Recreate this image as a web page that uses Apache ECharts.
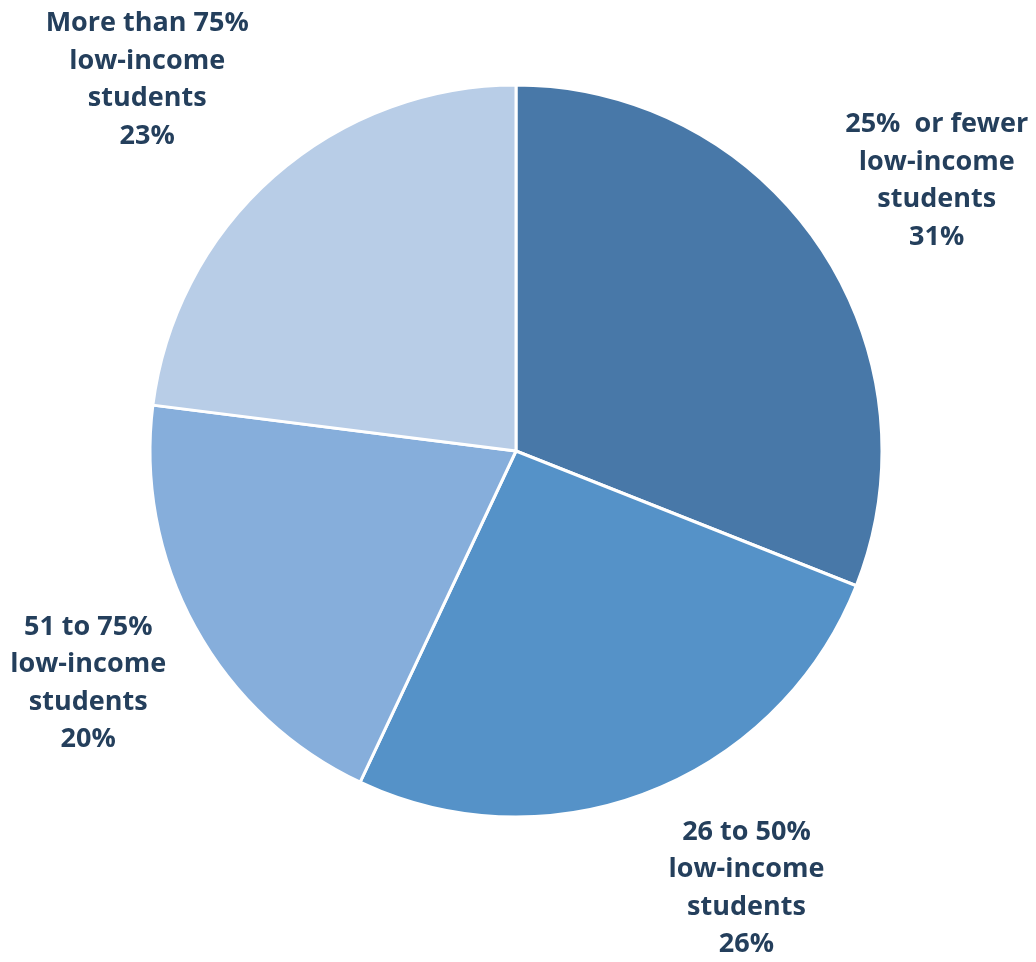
<!DOCTYPE html>
<html>
<head>
<meta charset="utf-8">
<script src="https://cdn.jsdelivr.net/npm/echarts@6/dist/echarts.min.js"></script>
<style>
  html, body { margin: 0; padding: 0; background: #fff; }
  #pieChart { width: 1036px; height: 962px; }
</style>
</head>
<body>
<div id="pieChart"></div>
<script>
// categories and shares (percent)
var categories = ['25%  or fewer\nlow-income\nstudents', '26 to 50%\nlow-income\nstudents', '51 to 75%\nlow-income\nstudents', 'More than 75%\nlow-income\nstudents'];
var shares = [31, 26, 20, 23];
var sliceColors = ['#4878A8', '#5592C8', '#86AEDB', '#B8CDE7'];

var cx = 516, cy = 451, R = 366;
// label placement: distance (x radius) and angle nudge in degrees
var labelDist = [1.366, 1.35, 1.33, 1.43];
var labelNudge = [-1.5, 6.2, -0.3, 3.4];

var total = shares.reduce(function (a, b) { return a + b; }, 0);
var midAngles = [];
var cum = 0;
for (var i = 0; i < shares.length; i++) {
    midAngles.push(Math.PI / 2 - 2 * Math.PI * (cum + shares[i] / 2) / total);
    cum += shares[i];
}

var pieData = categories.map(function (name, i) {
    return { name: name, value: shares[i], itemStyle: { color: sliceColors[i] } };
});

var chart = echarts.init(document.getElementById('pieChart'));
chart.setOption({
    animation: false,
    series: [{
        type: 'pie',
        center: [cx, cy],
        radius: R,
        startAngle: 90,
        clockwise: true,
        data: pieData,
        itemStyle: {
            borderColor: '#fff',
            borderWidth: 3
        },
        label: {
            show: true,
            position: 'outside',
            formatter: '{b}\n{c}%',
            color: '#243F5C',
            fontFamily: 'Open Sans',
            fontWeight: 'bold',
            fontSize: 27,
            lineHeight: 37.5,
            align: 'center',
            overflow: 'none'
        },
        labelLine: { show: false },
        labelLayout: function (params) {
            var i = params.dataIndex;
            var a = midAngles[i] + labelNudge[i] * Math.PI / 180;
            return {
                x: cx + Math.cos(a) * R * labelDist[i],
                y: cy - Math.sin(a) * R * labelDist[i],
                align: 'center',
                verticalAlign: 'middle'
            };
        }
    }]
});
</script>
</body>
</html>
